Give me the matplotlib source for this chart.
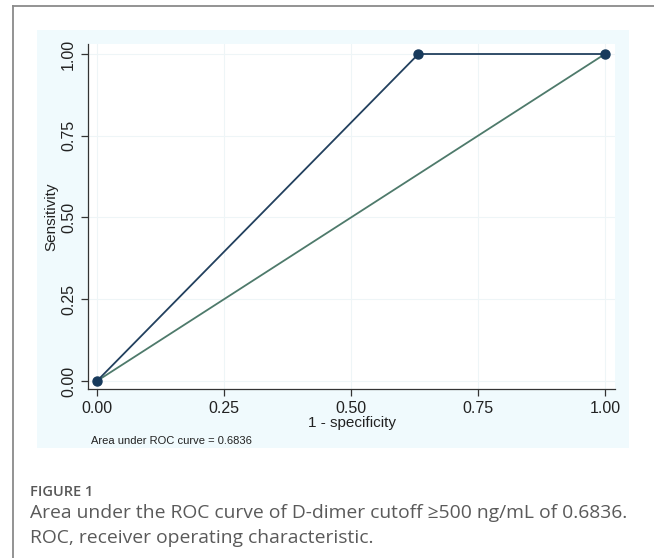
import matplotlib.pyplot as plt
from matplotlib.patches import Rectangle
from matplotlib.lines import Line2D

# ROC points (1 - specificity, sensitivity)
fpr = [0.0, 0.6328, 1.0]
tpr = [0.0, 1.0, 1.0]
ref_x = [0.0, 1.0]
ref_y = [0.0, 1.0]
ticks = [0.0, 0.25, 0.5, 0.75, 1.0]
tick_labels = ['0.00', '0.25', '0.50', '0.75', '1.00']
auc_text = 'Area under ROC curve = 0.6836'

plt.rcParams['font.family'] = ['Liberation Sans', 'DejaVu Sans']

fig = plt.figure(figsize=(6.54, 5.58), dpi=100)

# page border (top and left)
fig.add_artist(Line2D([13/654, 1.0], [1 - 6/558, 1 - 6/558], color='#8a8a8a', lw=1.3))
fig.add_artist(Line2D([13/654, 13/654], [0.0, 1 - 6/558], color='#8a8a8a', lw=1.3))

# light blue graph region
fig.add_artist(Rectangle((37/654, 1 - 448/558), 592/654, 418/558,
                         facecolor='#f0fafd', edgecolor='none', zorder=0))

ax = fig.add_axes([88/654, 1 - 389/558, 527/654, 345/558])
ax.set_facecolor('white')
ax.set_xlim(-0.0177, 1.0197)
ax.set_ylim(-0.0245, 1.0306)

ax.plot(ref_x, ref_y, color='#4e7a6b', lw=1.3, zorder=2)
ax.plot(fpr, tpr, color='#22405e', lw=1.3, marker='o', markersize=6.5,
        markerfacecolor='#173a5c', markeredgecolor='#173a5c', zorder=3)

ax.set_xticks(ticks)
ax.set_xticklabels(tick_labels)
ax.set_yticks(ticks)
ax.set_yticklabels(tick_labels, rotation=90, va='center')
ax.tick_params(direction='out', length=5, width=0.9, colors='#333333',
               labelsize=11.5, labelcolor='#222222')
ax.grid(True, color='#eef5f7', lw=0.8)
ax.set_axisbelow(True)

for s in ['top', 'right']:
    ax.spines[s].set_visible(False)
for s in ['left', 'bottom']:
    ax.spines[s].set_color('#333333')
    ax.spines[s].set_linewidth(0.9)

ax.set_xlabel('1 - specificity', fontsize=11, color='#222222', labelpad=0)
ax.set_ylabel('Sensitivity', fontsize=11, color='#222222', labelpad=2)

fig.text(91/654, 1 - 441/558, auc_text, fontsize=8, color='#222222', va='center')

# caption
cap_font = ['Open Sans', 'DejaVu Sans']
fig.text(30/654, 1 - 492/558, 'FIGURE 1', fontsize=10.5, color='#585858',
         family=cap_font, weight='semibold', va='center')
fig.text(30/654, 1 - 513/558,
         'Area under the ROC curve of D-dimer cutoff \u2265500 ng/mL of 0.6836.',
         fontsize=13.9, color='#5a5a5a', family=cap_font, va='center')
fig.text(30/654, 1 - 538/558, 'ROC, receiver operating characteristic.',
         fontsize=13.9, color='#5a5a5a', family=cap_font, va='center')

fig.savefig('out.png', dpi=100)
